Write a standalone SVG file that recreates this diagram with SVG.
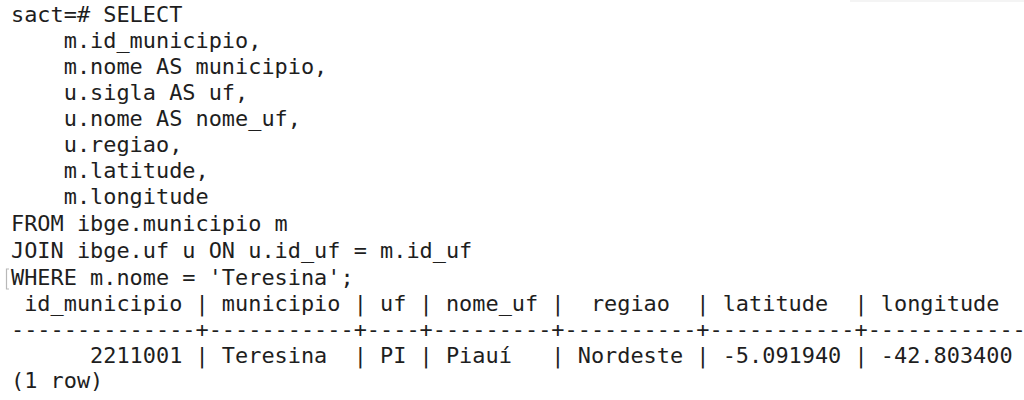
<svg xmlns="http://www.w3.org/2000/svg" width="1024" height="400" viewBox="0 0 1024 400">
<style>
  .t { font-family: "DejaVu Sans Mono", "Liberation Mono", monospace; font-size: 21.9px; fill: #1e1e1e; white-space: pre; }
</style>
<rect width="1024" height="400" fill="#ffffff"/>
<rect x="850" y="0" width="174" height="2" fill="#f4f4f4"/>
<g id="terminal" xml:space="preserve">
  <text class="t" x="11" y="22">sact=# SELECT</text>
  <text class="t" x="11" y="48">    m.id_municipio,</text>
  <text class="t" x="11" y="74">    m.nome AS municipio,</text>
  <text class="t" x="11" y="100">    u.sigla AS uf,</text>
  <text class="t" x="11" y="126">    u.nome AS nome_uf,</text>
  <text class="t" x="11" y="152">    u.regiao,</text>
  <text class="t" x="11" y="178">    m.latitude,</text>
  <text class="t" x="11" y="204">    m.longitude</text>
  <text class="t" x="11" y="231">FROM ibge.municipio m</text>
  <text class="t" x="11" y="258">JOIN ibge.uf u ON u.id_uf = m.id_uf</text>
  <text class="t" x="11" y="285">WHERE m.nome = 'Teresina';</text>
  <text class="t" x="11" y="311"> id_municipio | municipio | uf | nome_uf |  regiao  | latitude  | longitude</text>
  <text class="t" x="11" y="337">--------------+-----------+----+---------+----------+-----------+------------</text>
  <text class="t" x="11" y="363">      2211001 | Teresina  | PI | Piauí   | Nordeste | -5.091940 | -42.803400</text>
  <text class="t" x="11" y="388">(1 row)</text>
</g>
<path id="mark" d="M9 269 H6.5 V289 H9" fill="none" stroke="#b8b8b8" stroke-width="1.2"/>
</svg>
